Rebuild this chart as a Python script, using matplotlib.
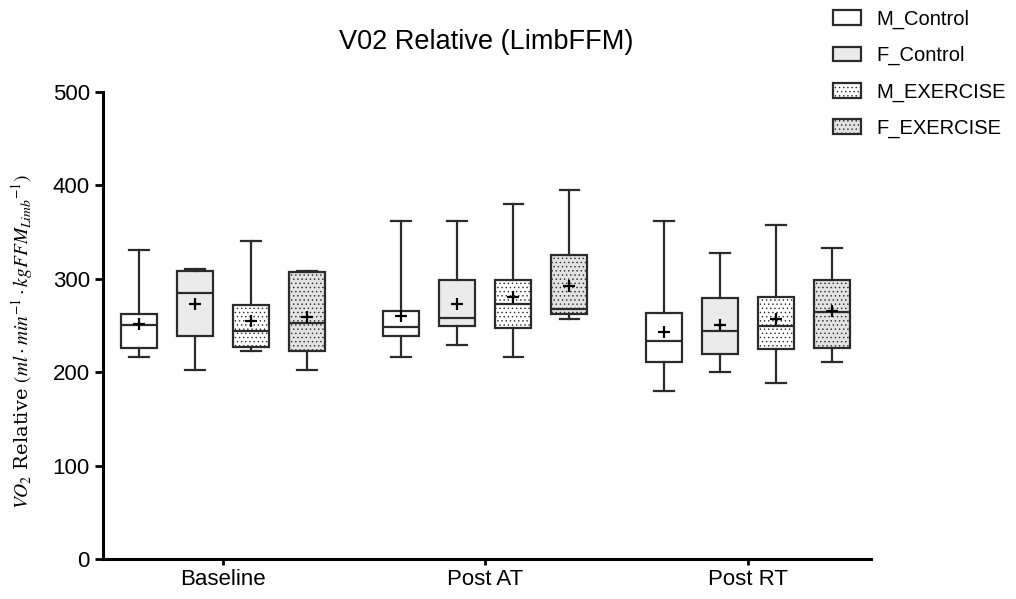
import matplotlib.pyplot as plt
from matplotlib.patches import Patch

plt.rcParams["font.family"] = ["Liberation Sans", "DejaVu Sans"]
plt.rcParams["mathtext.fontset"] = "stix"
plt.rcParams["hatch.linewidth"] = 0.5

timepoints = ["Baseline", "Post AT", "Post RT"]
series = ["M_Control", "F_Control", "M_EXERCISE", "F_EXERCISE"]

# per series, values for Baseline / Post AT / Post RT
whis_low = [[216, 216, 180], [202, 229.5, 200], [222.4, 216.6, 188.4], [202, 256.6, 211]]
q1 = [[225.6, 238.4, 211], [238.4, 249, 219.5], [227.3, 247.7, 224.5], [222.4, 262.3, 226]]
medians = [[250.5, 248, 233], [284.8, 258.4, 244], [244, 273, 249.5], [253, 267.7, 264.5]]
q3 = [[262, 266, 263.4], [308.7, 298.4, 279], [272, 298.4, 281], [307.3, 325, 298.7]]
whis_high = [[331, 362, 362], [310, 362, 327.6], [340, 380.4, 357.6], [308.7, 395.4, 332.6]]
means = [[252, 260, 243], [273, 273, 250.5], [255, 280.8, 257], [259, 292, 265]]

fills = ["white", "#ebebeb", "white", "#e2e2e2"]
hatches = [None, None, "....", "...."]

fig = plt.figure(figsize=(10.16, 5.99), dpi=100)
ax = fig.add_axes([0.1014, 0.0668, 0.7559, 0.7796])

edge = "#2b2b2b"
spacing = 0.2135
width = 0.137
for s in range(len(series)):
    stats = []
    for t in range(len(timepoints)):
        stats.append(dict(whislo=whis_low[s][t], q1=q1[s][t], med=medians[s][t],
                          q3=q3[s][t], whishi=whis_high[s][t], mean=means[s][t]))
    pos = [t + (s - 1.5) * spacing for t in range(len(timepoints))]
    bp = ax.bxp(stats, positions=pos, widths=width, showfliers=False,
                showmeans=True, patch_artist=True, manage_ticks=False,
                boxprops=dict(edgecolor=edge, linewidth=1.6),
                whiskerprops=dict(color=edge, linewidth=1.6),
                capprops=dict(color=edge, linewidth=1.6),
                medianprops=dict(color=edge, linewidth=1.6),
                meanprops=dict(marker="+", markeredgecolor="black",
                               markersize=9, markeredgewidth=1.6),
                capwidths=width * 0.55)
    for box in bp["boxes"]:
        box.set_facecolor(fills[s])
        if hatches[s]:
            box.set_hatch(hatches[s])
            box.set_edgecolor(edge)

ax.set_xlim(-0.4575, 2.47)
ax.set_ylim(0, 500)
ax.set_yticks([0, 100, 200, 300, 400, 500])
ax.set_xticks(range(len(timepoints)))
ax.set_xticklabels(timepoints)
ax.tick_params(axis="both", labelsize=16, width=2, color="black")
ax.tick_params(axis="y", length=6)
ax.tick_params(axis="x", length=4)
for side in ["top", "right"]:
    ax.spines[side].set_visible(False)
for side in ["left", "bottom"]:
    ax.spines[side].set_linewidth(2.2)

fig.text(0.479, 0.93, "V02 Relative (LimbFFM)", fontsize=19.5, ha="center", va="center")
fig.text(0.022, 0.43,
         r"$VO_2$ Relative $(ml \cdot min^{-1} \cdot kgFFM_{Limb}{}^{-1})$",
         fontsize=14, rotation=90, ha="center", va="center", family="serif")

handles = [Patch(facecolor=fills[i], edgecolor=edge, hatch=hatches[i], linewidth=1.6)
           for i in range(len(series))]
fig.legend(handles, series, loc="upper left", bbox_to_anchor=(0.802, 1.014),
           frameon=False, fontsize=14.5, handlelength=1.4, handleheight=0.75,
           handletextpad=0.75, labelspacing=0.85)

fig.savefig("out.png", dpi=100)
